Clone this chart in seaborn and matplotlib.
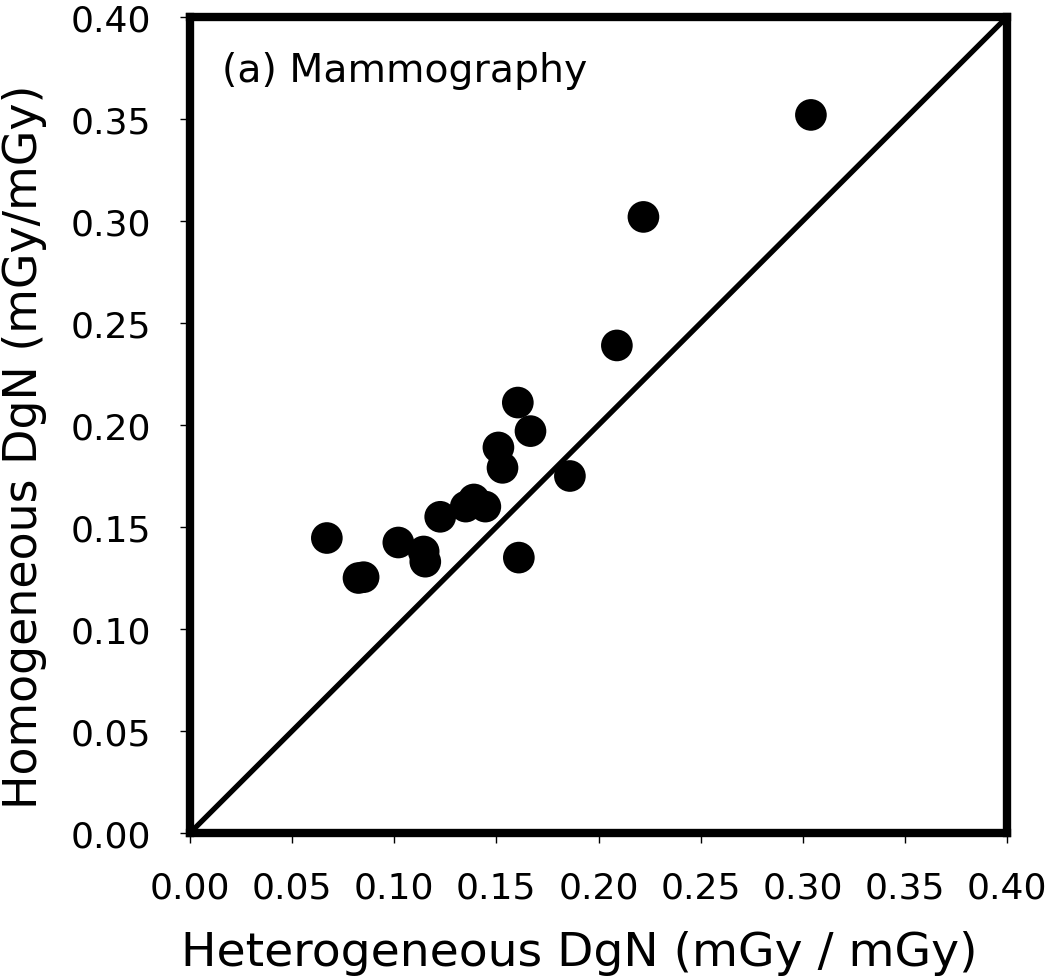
import numpy as np
import pandas as pd
import matplotlib
matplotlib.use("Agg")
import matplotlib.pyplot as plt
import seaborn as sns

# values
hetero_dgn = [0.304, 0.222, 0.209, 0.1605, 0.1667, 0.151, 0.153, 0.186,
              0.135, 0.139, 0.1446, 0.1225, 0.102, 0.1144, 0.1152,
              0.067, 0.0825, 0.085, 0.161]
homo_dgn = [0.352, 0.302, 0.239, 0.211, 0.197, 0.189, 0.179, 0.175,
            0.160, 0.1635, 0.160, 0.155, 0.1424, 0.138, 0.133,
            0.1446, 0.125, 0.1254, 0.135]
tick_values = [0.00, 0.05, 0.10, 0.15, 0.20, 0.25, 0.30, 0.35, 0.40]
tick_labels = ["%.2f" % t for t in tick_values]

df = pd.DataFrame({"hetero": hetero_dgn, "homo": homo_dgn})

sns.set_style("ticks")
plt.rcParams["font.family"] = ["DejaVu Sans"]

fig = plt.figure(figsize=(10.5, 9.79), dpi=100)
ax = fig.add_axes([0.18095, 0.14811, 0.7781, 0.8335])

# identity line
ax.plot([0, 0.4], [0, 0.4], color="black", lw=3.8, solid_capstyle="butt", zorder=2)

sns.scatterplot(data=df, x="hetero", y="homo", ax=ax, s=520, color="black",
                edgecolor="none", linewidth=0, zorder=3, legend=False)

ax.set_xlim(0, 0.4)
ax.set_ylim(0, 0.4)
ax.set_xticks(tick_values)
ax.set_xticklabels(tick_labels)
ax.set_yticks(tick_values)
ax.set_yticklabels(tick_labels)
ax.tick_params(axis="both", direction="out", length=7, width=1, color="black",
               labelsize=26, labelcolor="black")
ax.tick_params(axis="x", pad=20)
ax.tick_params(axis="y", pad=21)

for side in ["left", "right", "top", "bottom"]:
    ax.spines[side].set_visible(True)
    ax.spines[side].set_linewidth(6)
    ax.spines[side].set_color("black")
    ax.spines[side].set_capstyle("projecting")

ax.set_xlabel("Heterogeneous DgN (mGy / mGy)", fontsize=34, color="black")
ax.set_ylabel("Homogeneous DgN (mGy/mGy)", fontsize=33, color="black")
ax.xaxis.label.set_va("baseline")
ax.yaxis.label.set_va("center")
ax.xaxis.set_label_coords(0.477, -0.162)
ax.yaxis.set_label_coords(-0.202, 0.475)

ax.text(0.0157, 0.3687, "(a) Mammography", fontsize=28.4, color="black",
        ha="left", va="baseline")

ax.grid(False)
fig.savefig("out.png", dpi=100, facecolor="white")
